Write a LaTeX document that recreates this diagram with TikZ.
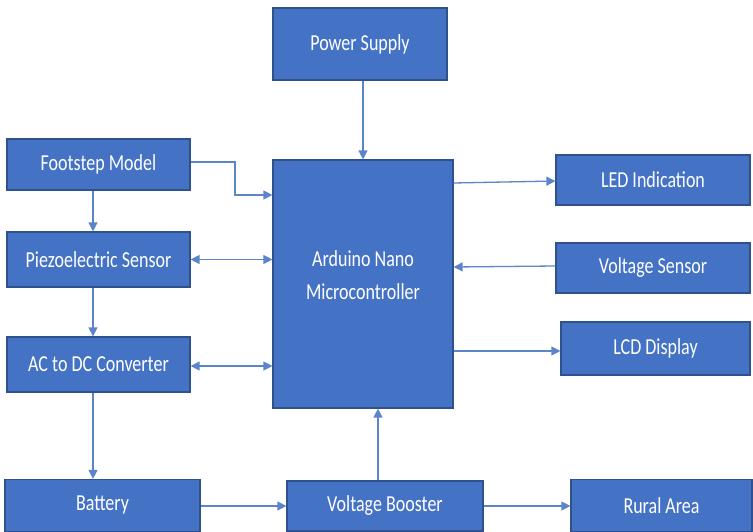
\documentclass[tikz,border=0pt]{standalone}
\usepackage{fontspec}
\usepackage{graphicx}
\setmainfont{Carlito}
\usetikzlibrary{arrows.meta}
\definecolor{boxblue}{HTML}{4472C4}
\definecolor{edgeblue}{HTML}{2F528F}
\definecolor{lineblue}{HTML}{5B84C9}
\newcommand{\hoog}[1]{\scalebox{1}[1.27]{#1}}
\tikzset{
  blok/.style={draw=edgeblue, line width=1.2pt, fill=boxblue, text=white,
    font=\fontsize{18}{22}\selectfont, inner sep=0pt, align=center},
  tekst/.style={text=white, font=\fontsize{18}{22}\selectfont, inner sep=0pt, align=center},
  pijl/.style={draw=lineblue, line width=1.3pt,
    -{Triangle[width=9pt,length=9pt]}},
  dpijl/.style={draw=lineblue, line width=1.3pt,
    {Triangle[width=9pt,length=9pt]}-{Triangle[width=9pt,length=9pt]}}
}
\begin{document}
\begin{tikzpicture}[x=1pt,y=-1pt]
        \useasboundingbox (0,0) rectangle (753,532);
        % Blokken
        \node[blok, minimum width=174pt, minimum height=72pt] (voeding) at (360,44) {\hoog{Power Supply}};
        \node[blok, minimum width=180pt, minimum height=248pt] (arduino) at (363,284) {};
        \node[tekst] (arduinotekst) at (363,275) {\hoog{Arduino Nano}\\[11pt]\hoog{Microcontroller}};
        \node[blok, minimum width=183pt, minimum height=51pt] (voetstap) at (98.5,164.5) {\hoog{Footstep Model}};
        \node[blok, minimum width=183pt, minimum height=55pt] (piezo) at (98.5,259.5) {\hoog{Piezoelectric Sensor}};
        \node[blok, minimum width=183pt, minimum height=55pt] (acdc) at (98.5,364.5) {\hoog{AC to DC Converter}};
        \node[blok, minimum width=195pt, minimum height=52pt] (batterij) at (102.5,505.5) {\hoog{Battery}};
        \node[blok, minimum width=196pt, minimum height=50pt] (booster) at (385,506) {\hoog{Voltage Booster}};
        \node[blok, minimum width=181pt, minimum height=52pt] (landelijk) at (661.5,505.5) {\hoog{Rural Area}};
        \node[blok, minimum width=194pt, minimum height=50pt] (led) at (653,180) {\hoog{LED Indication}};
        \node[blok, minimum width=194pt, minimum height=50pt] (vsensor) at (653,268) {\hoog{Voltage Sensor}};
        \node[blok, minimum width=189pt, minimum height=53pt] (lcd) at (655.5,348.5) {\hoog{LCD Display}};
        % Hulppunten
        \coordinate (knik1) at (235,162);
        \coordinate (knik2) at (235,195);
        % Verbindingen
        \draw[pijl] (voeding.south -| 363,0) -- (arduino.north -| 363,0);
        \draw[pijl] (voetstap.east |- knik1) -- (knik1) -- (knik2) -- (arduino.west |- knik2);
        \draw[dpijl] (piezo.east) -- (arduino.west |- piezo.east);
        \draw[dpijl] (acdc.east |- 0,366) -- (arduino.west |- 0,366);
        \draw[pijl] (voetstap.south -| 93,0) -- (piezo.north -| 93,0);
        \draw[pijl] (piezo.south -| 93,0) -- (acdc.north -| 93,0);
        \draw[pijl] (acdc.south -| 93,0) -- (batterij.north -| 93,0);
        \draw[pijl] (batterij.east |- 0,506) -- (booster.west |- 0,506);
        \draw[pijl] (booster.east |- 0,506) -- (landelijk.west |- 0,506);
        \draw[pijl] (booster.north -| 378,0) -- (arduino.south -| 378,0);
        \draw[pijl] (arduino.east |- 0,183) -- (led.west |- 0,181);
        \draw[pijl] (vsensor.west |- 0,266) -- (arduino.east |- 0,267);
        \draw[pijl] (arduino.east |- 0,351) -- (lcd.west |- 0,351);
\end{tikzpicture}
\end{document}
